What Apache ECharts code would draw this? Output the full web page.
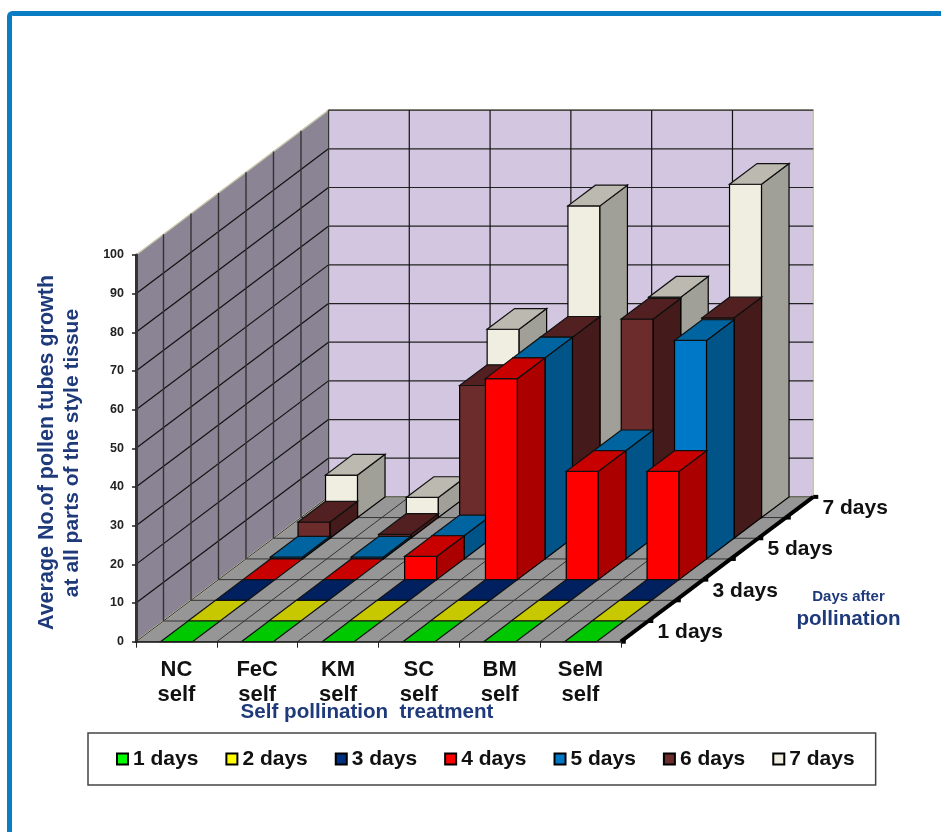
<!DOCTYPE html>
<html>
<head>
<meta charset="utf-8">
<title>Pollen tubes</title>
<script src="https://cdn.jsdelivr.net/npm/echarts@6/dist/echarts.min.js"></script>
<style>
html, body { margin: 0; padding: 0; background: #fff; overflow: hidden; }
#main { width: 941px; height: 832px; }
</style>
</head>
<body>
<div id="main"></div>
<script>
var categories = ['NC\nself', 'FeC\nself', 'KM\nself', 'SC\nself', 'BM\nself', 'SeM\nself'];
var dayNames = ['1 days', '2 days', '3 days', '4 days', '5 days', '6 days', '7 days'];
var depthLabels = ['1 days', '', '3 days', '', '5 days', '', '7 days'];
var valueTicks = [0, 10, 20, 30, 40, 50, 60, 70, 80, 90, 100];

var days1 = [0, 0, 0, 0, 0, 0];
var days2 = [0, 0, 0, 0, 0, 0];
var days3 = [0, 0, 0, 0, 0, 0];
var days4 = [0, 0, 6, 52, 28, 28];
var days5 = [0.5, 0.5, 6, 52, 28, 56.5];
var days6 = [4.2, 1, 39.5, 52, 56.7, 57];
var days7 = [11, 5.2, 48.7, 80.6, 57, 86.2];
var allDays = [days1, days2, days3, days4, days5, days6, days7];

var legendColors = ['#00ff00', '#ffff00', '#003080', '#ff0000', '#0078c8', '#6c2c2c', '#f0eee0'];
var frontColors = ['#00ff00', '#ffff00', '#003080', '#ff0000', '#0078c8', '#6c2c2c', '#f0eee0'];
var topColors = ['#00c800', '#c8c800', '#002060', '#c80000', '#0064a0', '#522020', '#bcbab0'];
var sideColors = ['#00a000', '#a0a000', '#001848', '#aa0000', '#005488', '#441a1a', '#a0a098'];

// oblique projection, one row of depth in axis units
var rowCount = 7;
var rowShiftX = 0.3403;
var rowShiftY = 5.35;
var barOffset = 0.304;
var barWidth = 0.396;
var navy = '#1f3a7a';
var fontName = '"Liberation Sans", Arial, sans-serif';

function project(api, x, row, v) {
    return api.coord([x + row * rowShiftX, v + row * rowShiftY]);
}

function poly(points, fill, stroke, width) {
    return {
        type: 'polygon',
        shape: { points: points },
        style: { fill: fill, stroke: stroke, lineWidth: width }
    };
}

function line(a, b, color, width) {
    return {
        type: 'line',
        shape: { x1: a[0], y1: a[1], x2: b[0], y2: b[1] },
        style: { stroke: color, lineWidth: width }
    };
}

function renderWalls(params, api) {
    var p = function (x, r, v) { return project(api, x, r, v); };
    var nCat = categories.length;
    var children = [
        poly([p(0, 0, 0), p(0, 0, 100), p(0, rowCount, 100), p(0, rowCount, 0)], '#8a8494', '#c8c4a8', 1.5),
        poly([p(0, rowCount, 0), p(0, rowCount, 100), p(nCat, rowCount, 100), p(nCat, rowCount, 0)], '#d3c6e0', '#c8c4a8', 1.5),
        poly([p(0, 0, 0), p(nCat, 0, 0), p(nCat, rowCount, 0), p(0, rowCount, 0)], '#969696', '#c8c4a8', 1.5)
    ];
    var i;
    for (i = 1; i < valueTicks.length; i++) {
        var v = valueTicks[i];
        if (v < 100) {
            children.push(line(p(0, 0, v), p(0, rowCount, v), '#111', 1.2));
        }
        children.push(line(p(0, rowCount, v), p(nCat, rowCount, v), '#222', 1.2));
    }
    for (i = 0; i <= rowCount; i++) {
        if (i > 0) {
            children.push(line(p(0, i, 0), p(0, i, 100), '#333', 1.4));
        }
        children.push(line(p(0, i, 0), p(nCat, i, 0), '#333', 1));
    }
    for (i = 0; i <= nCat; i++) {
        if (i > 0 && i < nCat) {
            children.push(line(p(i, rowCount, 0), p(i, rowCount, 100), '#111', 1.2));
        }
        children.push(line(p(i, 0, 0), p(i, rowCount, 0), '#333', 1));
    }
    return { type: 'group', children: children };
}

function renderBar(row) {
    return function (params, api) {
        var x0 = api.value(0) + barOffset;
        var x1 = x0 + barWidth;
        var v = api.value(1);
        var p = function (x, r, val) { return project(api, x, r, val); };
        var children = [];
        if (v > 0) {
            children.push(poly([p(x0, row, 0), p(x1, row, 0), p(x1, row, v), p(x0, row, v)], frontColors[row], '#000', 1.2));
            children.push(poly([p(x1, row, 0), p(x1, row + 1, 0), p(x1, row + 1, v), p(x1, row, v)], sideColors[row], '#000', 1.2));
        }
        children.push(poly([p(x0, row, v), p(x1, row, v), p(x1, row + 1, v), p(x0, row + 1, v)], topColors[row], '#111', 1.2));
        return { type: 'group', children: children };
    };
}

function renderDepthAxis(params, api) {
    var r = api.value(0);
    var nCat = categories.length;
    var children = [];
    var a = project(api, nCat, r, 0);
    var b = project(api, nCat, r + 1, 0);
    children.push(line(a, b, '#000', 4));
    children.push(line(a, [a[0] + 5, a[1]], '#000', 4));
    if (r === rowCount - 1) {
        children.push(line(b, [b[0] + 5, b[1]], '#000', 4));
    }
    if (depthLabels[r]) {
        var c = project(api, nCat, r + 0.5, 0);
        children.push({
            type: 'text',
            style: {
                x: c[0] + 23,
                y: c[1] + 1,
                text: depthLabels[r],
                font: 'bold 21px ' + fontName,
                fill: '#111',
                textAlign: 'left',
                textVerticalAlign: 'middle'
            }
        });
    }
    return { type: 'group', children: children };
}

var seriesList = [{
    name: 'walls',
    type: 'custom',
    xAxisIndex: 1,
    silent: true,
    renderItem: renderWalls,
    encode: { x: 0, y: 1 },
    data: [[0, 0]]
}];

// back row first so the front rows cover it
for (var row = rowCount - 1; row >= 0; row--) {
    seriesList.push({
        name: dayNames[row],
        type: 'custom',
        xAxisIndex: 1,
        renderItem: renderBar(row),
        encode: { x: 0, y: 1 },
        itemStyle: { color: legendColors[row] },
        data: allDays[row].map(function (v, i) { return [i, v]; })
    });
}

seriesList.push({
    name: 'depth',
    type: 'custom',
    xAxisIndex: 1,
    silent: true,
    renderItem: renderDepthAxis,
    encode: { x: 0, y: 1 },
    data: depthLabels.map(function (d, i) { return [i, 0]; })
});

var chart = echarts.init(document.getElementById('main'));
var option = {
    backgroundColor: '#fff',
    animation: false,
    textStyle: { fontFamily: fontName },
    grid: {
        left: 136,
        right: 320.2,
        top: 255,
        bottom: 190.3
    },
    xAxis: [
        {
            type: 'category',
            data: categories,
            z: 10,
            axisLine: { lineStyle: { color: '#222', width: 1.5 } },
            axisTick: { show: true, alignWithLabel: false, length: 6, lineStyle: { color: '#222', width: 1 } },
            axisLabel: {
                margin: 15,
                interval: 0,
                fontSize: 22,
                lineHeight: 25.6,
                fontWeight: 'bold',
                color: '#111'
            }
        },
        { type: 'value', min: 0, max: 6, show: false }
    ],
    yAxis: {
        type: 'value',
        min: 0,
        max: 100,
        interval: 10,
        z: 10,
        axisLine: { show: true, lineStyle: { color: '#333', width: 3 } },
        axisTick: { show: true, length: 4, lineStyle: { color: '#222', width: 1.5 } },
        axisLabel: {
            margin: 12,
            fontSize: 12.5,
            fontWeight: 'bold',
            color: '#222'
        },
        splitLine: { show: false }
    },
    legend: {
        data: dayNames,
        left: 88,
        top: 733,
        icon: 'rect',
        itemWidth: 11,
        itemHeight: 11,
        itemGap: 27,
        padding: [15.5, 21, 15.5, 28],
        borderColor: '#444',
        borderWidth: 1.5,
        itemStyle: { borderColor: '#000', borderWidth: 2 },
        textStyle: {
            fontSize: 21,
            fontWeight: 'bold',
            color: '#111',
            fontFamily: fontName
        }
    },
    graphic: [
        {
            type: 'rect',
            shape: { x: 9.5, y: 13.5, width: 960, height: 860, r: 3 },
            style: { fill: 'none', stroke: '#0a7cc4', lineWidth: 5 },
            silent: true
        },
        {
            type: 'text',
            x: 367, y: 712,
            style: { text: 'Self pollination  treatment', font: 'bold 20.6px ' + fontName, fill: navy, textAlign: 'center', textVerticalAlign: 'middle' }
        },
        {
            type: 'text',
            x: 47, y: 452.5, rotation: Math.PI / 2,
            style: { text: 'Average No.of pollen tubes growth', font: 'bold 21.5px ' + fontName, fill: navy, textAlign: 'center', textVerticalAlign: 'middle' }
        },
        {
            type: 'text',
            x: 72, y: 453, rotation: Math.PI / 2,
            style: { text: 'at all parts of the style tissue', font: 'bold 21px ' + fontName, fill: navy, textAlign: 'center', textVerticalAlign: 'middle' }
        },
        {
            type: 'text',
            x: 848.5, y: 597,
            style: { text: 'Days after', font: 'bold 15px ' + fontName, fill: navy, textAlign: 'center', textVerticalAlign: 'middle' }
        },
        {
            type: 'text',
            x: 848.5, y: 619,
            style: { text: 'pollination', font: 'bold 20.6px ' + fontName, fill: navy, textAlign: 'center', textVerticalAlign: 'middle' }
        }
    ],
    series: seriesList
};
chart.setOption(option);

window.addEventListener('resize', function () {
    chart.resize();
});
</script>
</body>
</html>
